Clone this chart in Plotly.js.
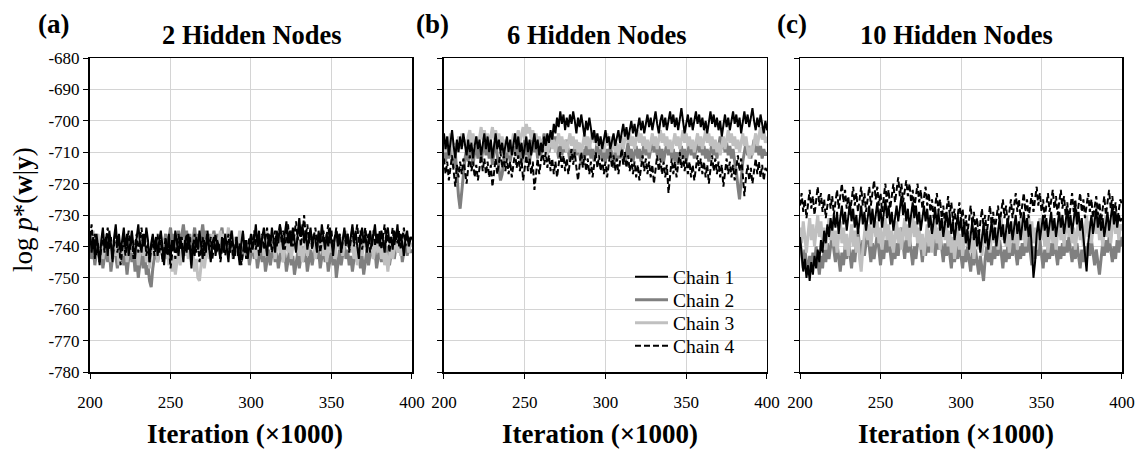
<!DOCTYPE html>
<html>
<head>
<meta charset="utf-8">
<script src="https://cdn.plot.ly/plotly-3.0.1.min.js"></script>
<style>html,body{margin:0;padding:0;background:#fff;}#chart{width:1146px;height:450px;}</style>
</head>
<body>
<div id="chart"></div>
<script>
// Iteration (x1000)
const iterations = [200,201,202,203,204,205,206,207,208,209,210,211,212,213,214,215,216,217,218,219,
220,221,222,223,224,225,226,227,228,229,230,231,232,233,234,235,236,237,238,239,
240,241,242,243,244,245,246,247,248,249,250,251,252,253,254,255,256,257,258,259,
260,261,262,263,264,265,266,267,268,269,270,271,272,273,274,275,276,277,278,279,
280,281,282,283,284,285,286,287,288,289,290,291,292,293,294,295,296,297,298,299,
300,301,302,303,304,305,306,307,308,309,310,311,312,313,314,315,316,317,318,319,
320,321,322,323,324,325,326,327,328,329,330,331,332,333,334,335,336,337,338,339,
340,341,342,343,344,345,346,347,348,349,350,351,352,353,354,355,356,357,358,359,
360,361,362,363,364,365,366,367,368,369,370,371,372,373,374,375,376,377,378,379,
380,381,382,383,384,385,386,387,388,389,390,391,392,393,394,395,396,397,398,399,400];

const panelTitles = ["2 Hidden Nodes", "6 Hidden Nodes", "10 Hidden Nodes"];
const panelLetters = ["(a)", "(b)", "(c)"];
const chainNames = ["Chain 1", "Chain 2", "Chain 3", "Chain 4"];
const xTickVals = [200, 250, 300, 350, 400];
const xTickLabels = ["200", "250", "300", "350", "400"];
const yTickVals = [-780,-770,-760,-750,-740,-730,-720,-710,-700,-690,-680];
const yTickLabels = ["-780","-770","-760","-750","-740","-730","-720","-710","-700","-690","-680"];

// Panel (a): 2 hidden nodes
const a_chain1 = [-735,-742,-737,-744,-736,-740,-746,-738,-734,-741,-737,-743,-735,-739,-745,-737,-733,-740,-736,-742,
-738,-734,-741,-736,-743,-739,-735,-740,-744,-737,-733,-739,-742,-736,-740,-734,-738,-745,-739,-736,
-741,-737,-743,-738,-735,-740,-746,-739,-742,-736,-744,-738,-741,-735,-739,-743,-737,-740,-745,-738,
-742,-736,-740,-747,-739,-743,-737,-741,-735,-740,-744,-738,-742,-736,-741,-745,-739,-737,-743,-738,
-740,-744,-737,-742,-736,-741,-745,-738,-735,-740,-743,-737,-741,-746,-739,-735,-742,-738,-744,-739,
-736,-741,-738,-733,-740,-735,-742,-737,-734,-739,-743,-736,-740,-734,-738,-742,-735,-739,-733,-737,
-741,-736,-732,-739,-735,-740,-734,-738,-742,-736,-731,-737,-733,-739,-735,-741,-737,-734,-740,-736,
-738,-742,-735,-739,-733,-737,-741,-736,-740,-734,-738,-743,-737,-735,-740,-736,-742,-738,-734,-739,
-736,-741,-737,-733,-739,-735,-740,-744,-737,-734,-739,-736,-742,-738,-735,-740,-737,-733,-739,-736,
-740,-735,-738,-742,-736,-734,-739,-737,-741,-735,-738,-733,-740,-736,-739,-743,-737,-735,-740,-738,-737];
const a_chain2 = [-738,-744,-740,-746,-742,-739,-745,-741,-747,-743,-740,-745,-741,-748,-744,-739,-743,-747,-742,-745,
-741,-746,-743,-749,-744,-740,-745,-742,-748,-744,-750,-745,-741,-747,-743,-749,-746,-751,-753,-747,
-744,-740,-745,-741,-738,-743,-739,-736,-741,-737,-734,-739,-736,-742,-738,-735,-740,-737,-733,-738,
-735,-740,-736,-742,-738,-734,-739,-736,-741,-737,-733,-738,-735,-740,-736,-742,-738,-735,-739,-736,
-740,-737,-734,-739,-736,-741,-738,-742,-739,-744,-740,-737,-742,-739,-745,-741,-738,-743,-740,-746,
-742,-739,-744,-741,-747,-743,-740,-745,-742,-748,-744,-741,-746,-743,-739,-745,-742,-747,-743,-740,
-745,-742,-748,-744,-741,-746,-743,-749,-745,-742,-747,-744,-740,-745,-742,-748,-744,-741,-746,-743,
-739,-744,-741,-747,-743,-740,-745,-742,-748,-744,-741,-746,-742,-750,-745,-741,-746,-743,-739,-744,
-741,-746,-743,-748,-744,-740,-745,-742,-747,-743,-749,-745,-741,-746,-743,-739,-744,-741,-747,-743,
-740,-745,-742,-738,-743,-740,-746,-742,-739,-744,-741,-737,-742,-739,-745,-741,-738,-743,-740,-742,-741];
const a_chain3 = [-737,-741,-735,-743,-739,-736,-742,-738,-744,-740,-736,-741,-737,-745,-740,-738,-743,-739,-746,-741,
-738,-743,-739,-745,-741,-737,-742,-738,-744,-740,-746,-742,-738,-743,-739,-745,-741,-747,-742,-738,
-743,-739,-745,-741,-737,-742,-738,-744,-740,-746,-742,-748,-743,-749,-745,-741,-746,-742,-738,-743,
-739,-744,-740,-746,-742,-748,-744,-750,-751,-746,-742,-747,-743,-739,-744,-740,-736,-741,-737,-742,
-738,-735,-740,-736,-742,-738,-734,-739,-735,-741,-737,-743,-739,-735,-740,-736,-742,-738,-744,-740,
-737,-742,-738,-744,-740,-736,-741,-737,-743,-739,-735,-740,-736,-742,-738,-744,-740,-737,-742,-739,
-745,-741,-737,-742,-738,-744,-740,-736,-741,-737,-743,-739,-745,-741,-738,-743,-739,-736,-741,-738,
-744,-740,-736,-741,-738,-743,-739,-745,-741,-737,-742,-738,-744,-740,-736,-741,-737,-743,-739,-735,
-740,-737,-742,-738,-744,-740,-746,-741,-737,-743,-739,-735,-740,-736,-742,-738,-744,-740,-737,-742,
-738,-744,-740,-746,-742,-748,-743,-739,-744,-740,-737,-742,-738,-743,-739,-735,-740,-737,-742,-739,-740];
const a_chain4 = [-737,-733,-740,-736,-743,-739,-745,-740,-736,-742,-738,-734,-741,-737,-744,-739,-735,-742,-738,-746,
-741,-737,-743,-739,-735,-741,-737,-744,-740,-736,-742,-738,-734,-740,-736,-743,-739,-745,-741,-737,
-743,-739,-736,-742,-738,-745,-741,-737,-743,-739,-747,-742,-738,-744,-740,-736,-741,-737,-743,-739,
-736,-741,-737,-744,-740,-736,-742,-738,-745,-741,-737,-743,-739,-735,-741,-737,-744,-740,-736,-742,
-739,-745,-741,-737,-743,-739,-736,-742,-738,-744,-740,-737,-743,-739,-746,-742,-738,-744,-740,-737,
-742,-738,-735,-741,-737,-743,-739,-736,-741,-737,-734,-740,-736,-742,-738,-735,-740,-736,-733,-739,
-735,-741,-737,-733,-739,-735,-740,-736,-732,-738,-734,-740,-736,-730,-737,-733,-739,-735,-741,-737,
-734,-740,-736,-742,-738,-735,-740,-736,-733,-739,-735,-741,-737,-734,-739,-736,-742,-738,-735,-740,
-736,-742,-738,-734,-740,-736,-733,-739,-735,-741,-737,-734,-739,-736,-742,-738,-735,-740,-736,-739,
-735,-741,-737,-733,-739,-736,-742,-738,-734,-740,-736,-739,-735,-741,-737,-734,-740,-736,-739,-737,-738];

// Panel (b): 6 hidden nodes
const b_chain1 = [-704,-709,-705,-711,-707,-703,-708,-712,-706,-710,-705,-709,-704,-708,-711,-706,-710,-707,-712,-708,
-705,-709,-706,-711,-707,-704,-709,-705,-710,-706,-712,-708,-704,-709,-706,-710,-707,-711,-708,-705,
-710,-706,-711,-707,-704,-709,-705,-710,-707,-712,-708,-705,-710,-706,-711,-708,-704,-709,-706,-711,
-707,-710,-705,-708,-704,-707,-703,-706,-701,-704,-699,-702,-697,-701,-698,-703,-699,-702,-698,-701,
-697,-700,-704,-699,-702,-698,-701,-705,-700,-703,-699,-702,-706,-703,-707,-704,-708,-705,-709,-706,
-703,-707,-705,-709,-706,-704,-708,-705,-703,-707,-704,-701,-705,-702,-706,-703,-700,-704,-701,-705,
-702,-699,-703,-700,-704,-701,-698,-702,-699,-703,-700,-697,-701,-704,-700,-698,-702,-699,-703,-700,
-697,-701,-698,-702,-699,-703,-700,-696,-700,-704,-701,-698,-702,-699,-703,-700,-697,-701,-698,-702,
-699,-703,-700,-704,-701,-697,-701,-698,-702,-699,-703,-700,-705,-701,-698,-702,-699,-703,-700,-697,
-701,-698,-702,-699,-704,-700,-697,-701,-698,-702,-699,-696,-700,-703,-699,-702,-698,-701,-704,-700,-703];
const b_chain2 = [-709,-713,-708,-712,-707,-711,-715,-710,-719,-724,-728,-722,-716,-712,-709,-713,-708,-711,-714,-710,
-707,-712,-708,-713,-709,-706,-711,-707,-712,-708,-714,-710,-706,-711,-716,-719,-717,-713,-709,-712,
-708,-713,-709,-706,-711,-707,-712,-708,-714,-710,-706,-711,-708,-713,-709,-705,-710,-707,-712,-708,
-711,-707,-704,-709,-705,-710,-706,-704,-708,-705,-709,-712,-708,-711,-707,-710,-706,-709,-713,-709,
-712,-708,-711,-707,-710,-714,-709,-712,-708,-711,-707,-712,-709,-713,-710,-706,-711,-708,-712,-709,
-713,-709,-712,-708,-711,-715,-710,-713,-709,-712,-708,-711,-714,-710,-707,-712,-709,-713,-710,-708,
-712,-709,-713,-710,-707,-711,-708,-712,-709,-706,-710,-707,-711,-708,-712,-709,-713,-710,-707,-711,
-708,-712,-709,-713,-710,-714,-711,-708,-712,-709,-713,-710,-707,-711,-708,-712,-709,-706,-710,-707,
-711,-708,-712,-709,-713,-710,-707,-711,-708,-712,-709,-705,-709,-706,-710,-707,-711,-708,-712,-709,
-713,-716,-721,-725,-719,-713,-710,-707,-711,-708,-712,-709,-706,-710,-707,-711,-708,-712,-709,-711,-710];
const b_chain3 = [-706,-710,-705,-709,-704,-708,-712,-707,-710,-705,-709,-704,-708,-706,-710,-705,-703,-707,-704,-708,
-705,-709,-706,-702,-706,-703,-707,-704,-708,-705,-702,-706,-703,-707,-704,-708,-705,-709,-706,-710,
-707,-711,-708,-704,-708,-705,-703,-707,-704,-702,-706,-701,-704,-702,-706,-703,-707,-704,-708,-705,
-709,-706,-710,-707,-711,-708,-705,-709,-706,-710,-707,-704,-708,-705,-709,-706,-710,-707,-704,-708,
-705,-709,-706,-710,-707,-711,-708,-704,-708,-705,-709,-706,-703,-707,-704,-708,-705,-709,-706,-710,
-707,-704,-708,-705,-709,-706,-710,-707,-711,-708,-705,-709,-706,-703,-707,-704,-708,-705,-709,-706,
-703,-707,-704,-708,-705,-709,-706,-710,-707,-704,-708,-705,-709,-706,-703,-707,-704,-708,-705,-709,
-706,-710,-707,-704,-708,-705,-709,-706,-703,-707,-704,-708,-705,-709,-706,-710,-707,-704,-708,-705,
-709,-706,-703,-707,-704,-708,-705,-709,-706,-710,-707,-711,-708,-705,-709,-706,-703,-707,-704,-708,
-705,-709,-706,-710,-707,-704,-708,-705,-709,-712,-708,-711,-707,-704,-708,-705,-702,-706,-703,-707,-705];
const b_chain4 = [-712,-717,-713,-719,-715,-711,-716,-721,-714,-718,-713,-717,-712,-716,-720,-715,-711,-716,-713,-718,
-714,-719,-715,-711,-716,-712,-717,-713,-718,-714,-721,-716,-712,-717,-713,-710,-715,-711,-716,-712,
-717,-713,-718,-714,-710,-715,-711,-716,-712,-719,-715,-711,-716,-712,-717,-713,-722,-716,-712,-717,
-713,-709,-714,-710,-715,-711,-716,-712,-717,-713,-718,-714,-710,-715,-711,-716,-712,-717,-713,-709,
-714,-710,-715,-719,-714,-710,-715,-711,-716,-712,-717,-713,-718,-714,-710,-715,-711,-716,-712,-717,
-713,-718,-714,-710,-715,-711,-716,-712,-717,-713,-709,-714,-710,-715,-711,-716,-712,-717,-713,-718,
-714,-719,-715,-711,-716,-712,-717,-713,-718,-714,-720,-715,-711,-716,-712,-717,-713,-718,-714,-723,
-716,-712,-717,-713,-718,-714,-710,-715,-711,-716,-712,-717,-713,-718,-714,-719,-715,-711,-716,-712,
-717,-713,-718,-714,-720,-715,-711,-716,-712,-717,-713,-718,-714,-721,-716,-712,-717,-713,-718,-714,
-719,-715,-711,-716,-712,-717,-724,-718,-714,-719,-715,-720,-716,-712,-717,-713,-718,-714,-719,-715,-716];

// Panel (c): 10 hidden nodes
const c_chain1 = [-737,-743,-748,-744,-750,-746,-751,-745,-749,-743,-747,-741,-745,-738,-742,-735,-739,-733,-737,-731,
-735,-730,-734,-729,-736,-731,-727,-733,-729,-735,-730,-726,-732,-728,-734,-730,-736,-731,-727,-733,
-729,-735,-731,-727,-733,-728,-734,-730,-726,-732,-728,-734,-729,-725,-731,-727,-733,-729,-735,-731,
-727,-732,-728,-724,-730,-726,-732,-728,-734,-730,-726,-731,-727,-733,-729,-735,-731,-727,-732,-728,
-734,-730,-736,-732,-728,-733,-729,-735,-731,-737,-733,-729,-734,-730,-736,-732,-738,-734,-730,-735,
-731,-737,-733,-739,-735,-741,-736,-732,-738,-734,-740,-736,-742,-737,-733,-739,-735,-741,-736,-732,
-738,-734,-740,-735,-731,-737,-733,-739,-735,-731,-736,-732,-738,-734,-730,-736,-732,-738,-733,-729,
-735,-731,-737,-733,-741,-750,-745,-736,-732,-738,-734,-730,-735,-731,-737,-733,-729,-735,-731,-737,
-733,-729,-734,-730,-736,-732,-728,-734,-730,-736,-731,-727,-733,-729,-735,-731,-737,-742,-748,-739,
-734,-730,-736,-732,-728,-734,-730,-735,-731,-737,-733,-729,-735,-731,-727,-733,-729,-734,-730,-732,-731];
const c_chain2 = [-738,-743,-747,-741,-746,-749,-743,-748,-742,-746,-740,-745,-749,-743,-747,-741,-745,-739,-744,-740,
-736,-741,-745,-739,-744,-748,-742,-746,-740,-744,-738,-743,-747,-741,-745,-739,-735,-740,-744,-738,
-743,-739,-735,-740,-745,-739,-744,-740,-736,-741,-746,-740,-744,-738,-742,-737,-741,-746,-740,-744,
-739,-743,-738,-734,-739,-744,-738,-742,-737,-741,-746,-740,-744,-739,-735,-740,-745,-739,-743,-738,
-742,-737,-733,-738,-743,-737,-741,-736,-740,-745,-739,-743,-738,-742,-747,-741,-745,-740,-744,-739,
-743,-747,-741,-745,-740,-744,-748,-742,-746,-741,-745,-749,-743,-747,-751,-744,-740,-745,-741,-746,
-740,-744,-739,-743,-738,-742,-747,-741,-745,-740,-744,-739,-743,-738,-742,-746,-740,-744,-739,-743,
-738,-742,-737,-741,-746,-740,-744,-739,-743,-738,-742,-747,-741,-745,-740,-744,-739,-743,-738,-742,
-746,-740,-744,-739,-743,-738,-742,-737,-741,-745,-740,-744,-739,-743,-747,-741,-745,-740,-744,-739,
-743,-738,-742,-746,-741,-745,-749,-744,-739,-743,-738,-742,-737,-741,-745,-740,-744,-738,-742,-737,-740];
const c_chain3 = [-734,-739,-732,-737,-742,-736,-731,-738,-733,-740,-735,-730,-737,-732,-739,-734,-741,-736,-731,-738,
-733,-740,-735,-742,-737,-732,-739,-734,-741,-736,-743,-738,-733,-740,-735,-742,-737,-744,-748,-741,
-736,-731,-738,-733,-740,-735,-730,-737,-732,-739,-734,-741,-736,-731,-738,-733,-740,-735,-742,-737,
-732,-739,-734,-741,-736,-731,-738,-733,-740,-735,-730,-737,-732,-739,-734,-741,-736,-743,-738,-733,
-740,-735,-742,-737,-732,-739,-734,-741,-736,-731,-738,-733,-740,-735,-742,-737,-744,-739,-734,-741,
-736,-743,-738,-733,-740,-735,-742,-737,-744,-739,-734,-741,-736,-743,-738,-733,-740,-735,-742,-737,
-732,-739,-734,-741,-736,-731,-738,-733,-740,-735,-742,-737,-732,-739,-734,-741,-736,-731,-738,-733,
-740,-735,-730,-737,-732,-739,-734,-741,-736,-731,-738,-733,-740,-735,-742,-737,-732,-739,-734,-741,
-736,-731,-738,-733,-740,-735,-730,-737,-732,-739,-734,-741,-736,-731,-738,-733,-740,-735,-730,-737,
-732,-739,-734,-729,-736,-731,-738,-733,-740,-735,-730,-737,-732,-739,-734,-729,-736,-731,-738,-733,-735];
const c_chain4 = [-727,-723,-729,-725,-731,-726,-722,-728,-724,-730,-725,-721,-727,-723,-729,-725,-731,-727,-723,-728,
-724,-730,-726,-722,-728,-724,-720,-726,-722,-728,-724,-730,-725,-721,-727,-723,-729,-725,-721,-727,
-723,-729,-725,-721,-727,-723,-719,-725,-721,-727,-723,-729,-724,-720,-726,-722,-728,-724,-720,-726,
-722,-718,-724,-720,-726,-722,-719,-724,-720,-726,-722,-728,-724,-720,-726,-722,-728,-725,-721,-727,
-723,-729,-725,-731,-727,-723,-729,-725,-731,-727,-733,-728,-724,-730,-726,-732,-728,-734,-730,-726,
-732,-728,-734,-730,-736,-731,-727,-733,-729,-735,-731,-737,-732,-728,-734,-730,-736,-731,-727,-733,
-729,-735,-731,-727,-733,-729,-725,-731,-727,-733,-729,-725,-731,-727,-723,-729,-725,-731,-727,-723,
-729,-725,-731,-727,-723,-729,-725,-721,-727,-723,-729,-725,-731,-727,-723,-729,-725,-722,-728,-724,
-730,-726,-722,-728,-724,-730,-726,-732,-727,-723,-729,-725,-731,-727,-723,-729,-725,-731,-727,-723,
-729,-725,-731,-727,-724,-730,-726,-732,-728,-724,-730,-726,-722,-728,-724,-730,-726,-732,-728,-725,-727];

const panels = [
  [a_chain1, a_chain2, a_chain3, a_chain4],
  [b_chain1, b_chain2, b_chain3, b_chain4],
  [c_chain1, c_chain2, c_chain3, c_chain4]
];

const chainStyles = [
  {color: '#000000', width: 2, dash: 'solid'},
  {color: '#808080', width: 3, dash: 'solid'},
  {color: '#c0c0c0', width: 3, dash: 'solid'},
  {color: '#000000', width: 2, dash: '6px,3px'}
];
const drawOrder = [1, 2, 0, 3];
const legendIds = ['legend', 'legend2', 'legend3', 'legend4'];

const traces = [];
panels.forEach((chains, p) => {
  drawOrder.forEach(c => {
    traces.push({
      type: 'scatter', mode: 'lines',
      x: iterations, y: chains[c],
      name: chainNames[c],
      xaxis: p === 0 ? 'x' : 'x' + (p + 1),
      yaxis: p === 0 ? 'y' : 'y' + (p + 1),
      line: chainStyles[c],
      showlegend: p === 1,
      legend: legendIds[c],
      hoverinfo: 'skip'
    });
  });
});

const font = 'Liberation Serif';
const domains = [[0, 0.3120], [0.3430, 0.6560], [0.6880, 1]];

function xax(i) {
  return {
    domain: domains[i], range: [200, 400], anchor: i === 0 ? 'y' : 'y' + (i + 1),
    tickvals: xTickVals, ticktext: xTickLabels, ticks: 'outside', ticklen: 5, tickcolor: '#000',
    ticklabelstandoff: 9,
    showline: true, linecolor: '#000', linewidth: 1.5, mirror: true,
    showgrid: true, gridcolor: '#d4d4d4', gridwidth: 1, zeroline: false,
    tickfont: {family: font, size: 17, color: '#000'}
  };
}
function yax(i) {
  return {
    domain: [0, 1], range: [-780, -680], anchor: i === 0 ? 'x' : 'x' + (i + 1),
    tickvals: yTickVals, ticktext: yTickLabels, ticks: 'outside', ticklen: 5, tickcolor: '#000',
    showticklabels: i === 0,
    showline: true, linecolor: '#000', linewidth: i === 0 ? 2 : 1.5, mirror: true,
    showgrid: true, gridcolor: '#d4d4d4', gridwidth: 1, zeroline: false,
    tickfont: {family: font, size: 17, color: '#000'}
  };
}

const annotations = [];
const titleCenters = [252, 597, 956];
const letterCenters = [53, 432, 792];
const xTitleCenters = [245, 600, 956];
const toPaperX = px => (px - 90) / 1032;
const toPaperY = py => (372 - py) / 314;
for (let i = 0; i < 3; i++) {
  annotations.push({text: '<b>' + panelTitles[i] + '</b>', xref: 'paper', yref: 'paper',
    x: toPaperX(titleCenters[i]), y: toPaperY(35), xanchor: 'center', yanchor: 'middle',
    showarrow: false, font: {family: font, size: 26.5, color: '#000'}});
  annotations.push({text: '<b>' + panelLetters[i] + '</b>', xref: 'paper', yref: 'paper',
    x: toPaperX(letterCenters[i]), y: toPaperY(24), xanchor: 'center', yanchor: 'middle',
    showarrow: false, font: {family: font, size: 27, color: '#000'}});
  annotations.push({text: '<b>Iteration (×1000)</b>', xref: 'paper', yref: 'paper',
    x: toPaperX(xTitleCenters[i]), y: toPaperY(434), xanchor: 'center', yanchor: 'middle',
    showarrow: false, font: {family: font, size: 27, color: '#000'}});
}
annotations.push({text: 'log <i>p</i>*(<b>w</b>|<b>y</b>)', xref: 'paper', yref: 'paper',
  x: toPaperX(23), y: toPaperY(210), xanchor: 'center', yanchor: 'middle', textangle: -90,
  showarrow: false, font: {family: font, size: 27, color: '#000'}});

const legendCenters = [277, 300, 323, 346];
const layout = {
  width: 1146, height: 450,
  margin: {l: 90, r: 24, t: 58, b: 78},
  paper_bgcolor: '#fff', plot_bgcolor: '#fff',
  font: {family: font, color: '#000'},
  xaxis: xax(0), xaxis2: xax(1), xaxis3: xax(2),
  yaxis: yax(0), yaxis2: yax(1), yaxis3: yax(2),
  annotations: annotations,
  showlegend: true
};
legendIds.forEach((id, k) => {
  layout[id] = {x: toPaperX(630), y: toPaperY(legendCenters[k]), xanchor: 'left', yanchor: 'middle',
    bgcolor: 'rgba(0,0,0,0)', borderwidth: 0, itemwidth: 33,
    font: {family: font, size: 19.5, color: '#000'}};
});

Plotly.newPlot('chart', traces, layout, {displayModeBar: false, staticPlot: true});
</script>
</body>
</html>
